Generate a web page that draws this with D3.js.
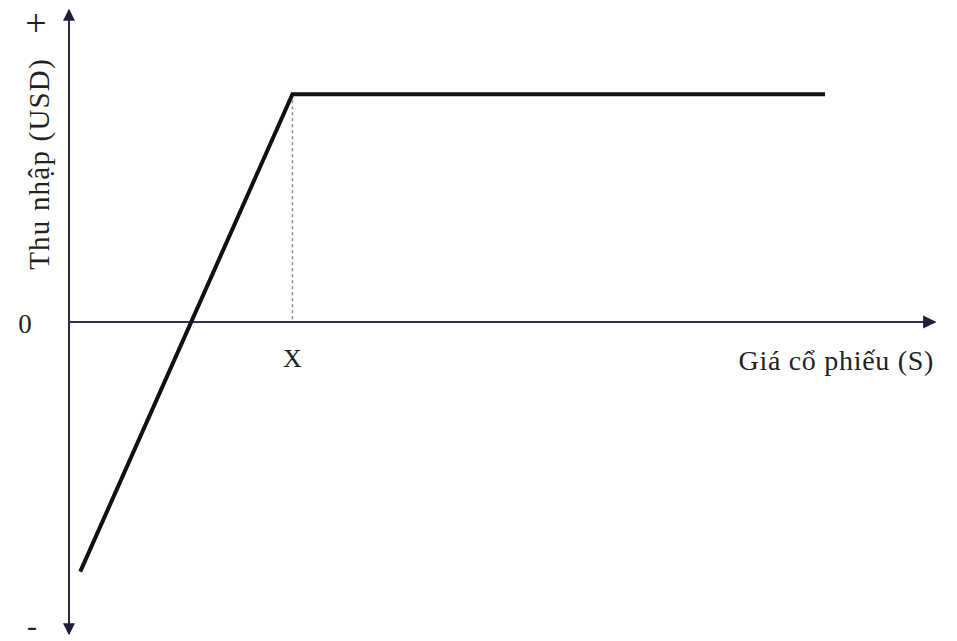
<!DOCTYPE html>
<html>
<head>
<meta charset="utf-8">
<script src="https://cdn.jsdelivr.net/npm/d3@7"></script>
<style>
  body { margin: 0; background: #fff; }
  text { font-family: "Liberation Serif", "DejaVu Serif", serif; fill: #222; }
</style>
</head>
<body>
<script>
// payoff points (stock price S, income)
var prices = [1.3, 25.8, 87.3],
    payoff = [-80, 73, 73],
    strike = 25.8;

var width = 957, height = 641;

var x = d3.scaleLinear().domain([0, 100]).range([69, 935]),
    y = d3.scaleLinear().domain([-100, 100]).range([634, 10]);

var svg = d3.select("body").append("svg")
    .attr("width", width)
    .attr("height", height);

var defs = svg.append("defs");
defs.append("marker")
    .attr("id", "arrow")
    .attr("viewBox", "0 0 10 10")
    .attr("refX", 9).attr("refY", 5)
    .attr("markerWidth", 6).attr("markerHeight", 6)
    .attr("markerUnits", "strokeWidth")
    .attr("orient", "auto-start-reverse")
  .append("path")
    .attr("d", "M0,0L10,5L0,10Z")
    .attr("fill", "#1e1e3c");

// axes
svg.append("line")
    .attr("x1", x(0)).attr("x2", x(0))
    .attr("y1", y(-100)).attr("y2", y(100))
    .attr("stroke", "#2a2a40").attr("stroke-width", 2)
    .attr("marker-start", "url(#arrow)")
    .attr("marker-end", "url(#arrow)");

svg.append("line")
    .attr("x1", x(0)).attr("x2", x(100))
    .attr("y1", y(0)).attr("y2", y(0))
    .attr("stroke", "#30305a").attr("stroke-width", 2.2)
    .attr("marker-end", "url(#arrow)");

// dashed strike line
svg.append("line")
    .attr("x1", x(strike)).attr("x2", x(strike))
    .attr("y1", y(payoff[1])).attr("y2", y(0))
    .attr("stroke", "#8a8a9a").attr("stroke-width", 1.5)
    .attr("stroke-dasharray", "3,3");

// payoff line
var line = d3.line()
    .x(function(d, i) { return x(prices[i]); })
    .y(function(d) { return y(d); });

svg.append("path")
    .datum(payoff)
    .attr("d", line)
    .attr("fill", "none")
    .attr("stroke", "#111")
    .attr("stroke-width", 4)
    .attr("stroke-linejoin", "miter");

// labels
svg.append("text")
    .attr("x", 25).attr("y", 333)
    .attr("text-anchor", "middle")
    .style("font-size", "27px")
    .text("0");

svg.append("text")
    .attr("x", x(strike)).attr("y", 367)
    .attr("text-anchor", "middle")
    .style("font-size", "26px")
    .text("X");

svg.append("text")
    .attr("x", 934).attr("y", 370)
    .attr("text-anchor", "end")
    .style("font-size", "28px")
    .style("letter-spacing", "0.7px")
    .text("Giá cổ phiếu (S)");

svg.append("text")
    .attr("transform", "translate(49,164) rotate(-90)")
    .attr("text-anchor", "middle")
    .style("font-size", "29px")
    .style("letter-spacing", "1.2px")
    .text("Thu nhập  (USD)");

svg.append("text")
    .attr("x", 36).attr("y", 36)
    .attr("text-anchor", "middle")
    .style("font-size", "38px")
    .text("+");

svg.append("text")
    .attr("x", 32).attr("y", 636)
    .attr("text-anchor", "middle")
    .style("font-size", "30px")
    .text("-");
</script>
</body>
</html>
